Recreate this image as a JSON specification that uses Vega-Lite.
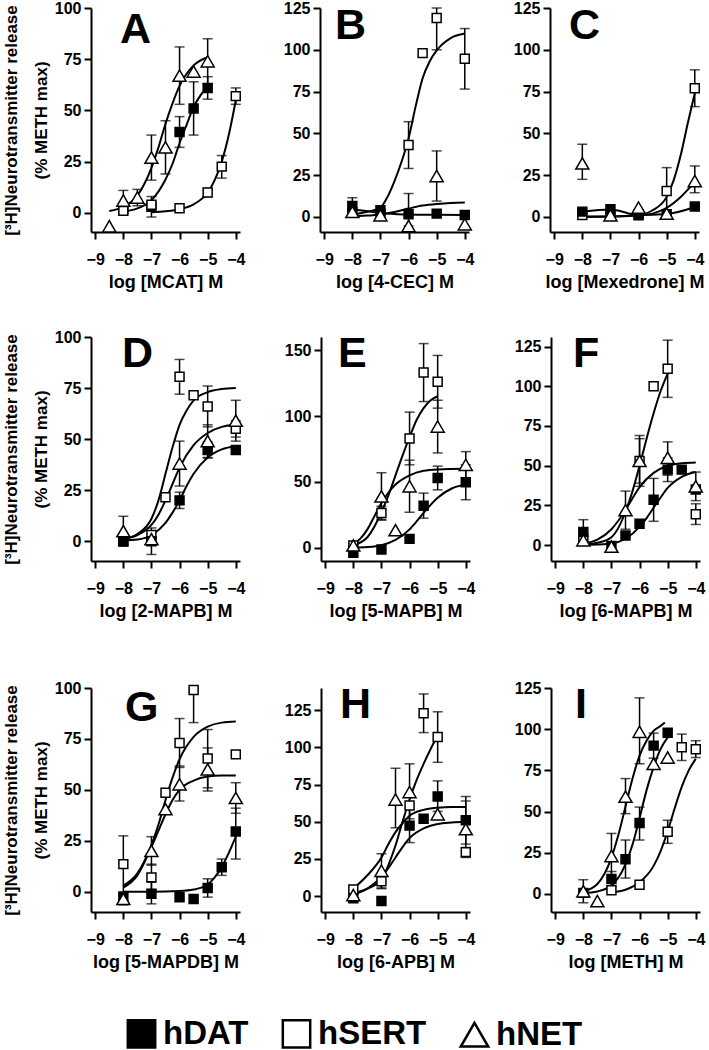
{
"$schema":"https://vega.github.io/schema/vega-lite/v6.json",
"padding":{"left":2,"top":0,"right":0,"bottom":0},
"datasets":{"d":[
{"p":"A","k":"f","s":"hNET","x":-8.5,"y":1},{"p":"A","k":"f","s":"hNET","x":-8,"y":3},{"p":"A","k":"f","s":"hNET","x":-7.5,"y":8.5},{"p":"A","k":"f","s":"hNET","x":-7,"y":22},{"p":"A","k":"f","s":"hNET","x":-6.75,"y":32},{"p":"A","k":"f","s":"hNET","x":-6.5,"y":43.5},{"p":"A","k":"f","s":"hNET","x":-6.25,"y":53.5},{"p":"A","k":"f","s":"hNET","x":-6,"y":62},{"p":"A","k":"f","s":"hNET","x":-5.5,"y":72},{"p":"A","k":"f","s":"hNET","x":-5,"y":76},
{"p":"A","k":"f","s":"hDAT","x":-8,"y":0.7},{"p":"A","k":"f","s":"hDAT","x":-7.5,"y":2.2},{"p":"A","k":"f","s":"hDAT","x":-7,"y":6.2},{"p":"A","k":"f","s":"hDAT","x":-6.5,"y":16.3},{"p":"A","k":"f","s":"hDAT","x":-6.25,"y":24},{"p":"A","k":"f","s":"hDAT","x":-6,"y":34},{"p":"A","k":"f","s":"hDAT","x":-5.75,"y":43},{"p":"A","k":"f","s":"hDAT","x":-5.5,"y":51.7},{"p":"A","k":"f","s":"hDAT","x":-5.25,"y":57.5},{"p":"A","k":"f","s":"hDAT","x":-5,"y":61.8},
{"p":"A","k":"f","s":"hSERT","x":-7,"y":0.3},{"p":"A","k":"f","s":"hSERT","x":-6.5,"y":0.8},{"p":"A","k":"f","s":"hSERT","x":-6,"y":1.8},{"p":"A","k":"f","s":"hSERT","x":-5.5,"y":4.2},{"p":"A","k":"f","s":"hSERT","x":-5,"y":10},{"p":"A","k":"f","s":"hSERT","x":-4.75,"y":16},{"p":"A","k":"f","s":"hSERT","x":-4.5,"y":25},{"p":"A","k":"f","s":"hSERT","x":-4.25,"y":38},{"p":"A","k":"f","s":"hSERT","x":-4,"y":55},
{"p":"A","k":"p","s":"hNET","x":-8.5,"y":-6.5},{"p":"A","k":"p","s":"hNET","x":-8,"y":6,"lo":1,"hi":11},{"p":"A","k":"p","s":"hNET","x":-7.5,"y":7.5,"lo":3.5,"hi":11.5},{"p":"A","k":"p","s":"hNET","x":-7,"y":27,"lo":16,"hi":38},{"p":"A","k":"p","s":"hNET","x":-6.5,"y":32,"lo":19,"hi":45},{"p":"A","k":"p","s":"hNET","x":-6,"y":67,"lo":53,"hi":81},{"p":"A","k":"p","s":"hNET","x":-5.5,"y":69},{"p":"A","k":"p","s":"hNET","x":-5,"y":74,"lo":63,"hi":85},
{"p":"A","k":"p","s":"hDAT","x":-8,"y":2},{"p":"A","k":"p","s":"hDAT","x":-7,"y":3,"lo":-2,"hi":8},{"p":"A","k":"p","s":"hDAT","x":-6,"y":39.5,"lo":32,"hi":47},{"p":"A","k":"p","s":"hDAT","x":-5.5,"y":51,"lo":38,"hi":64},{"p":"A","k":"p","s":"hDAT","x":-5,"y":61,"lo":55.5,"hi":66.5},
{"p":"A","k":"p","s":"hSERT","x":-8,"y":1},{"p":"A","k":"p","s":"hSERT","x":-7,"y":4},{"p":"A","k":"p","s":"hSERT","x":-6,"y":2.3},{"p":"A","k":"p","s":"hSERT","x":-5,"y":10,"lo":8,"hi":12},{"p":"A","k":"p","s":"hSERT","x":-4.5,"y":22.6,"lo":17,"hi":28},{"p":"A","k":"p","s":"hSERT","x":-4,"y":57,"lo":53,"hi":61},

{"p":"B","k":"f","s":"hSERT","x":-8,"y":1.6},{"p":"B","k":"f","s":"hSERT","x":-7.5,"y":3},{"p":"B","k":"f","s":"hSERT","x":-7,"y":5.6},{"p":"B","k":"f","s":"hSERT","x":-6.75,"y":12},{"p":"B","k":"f","s":"hSERT","x":-6.5,"y":21.5},{"p":"B","k":"f","s":"hSERT","x":-6.25,"y":33},{"p":"B","k":"f","s":"hSERT","x":-6,"y":47},{"p":"B","k":"f","s":"hSERT","x":-5.75,"y":66},{"p":"B","k":"f","s":"hSERT","x":-5.5,"y":83},{"p":"B","k":"f","s":"hSERT","x":-5.25,"y":93},{"p":"B","k":"f","s":"hSERT","x":-5,"y":99.6},{"p":"B","k":"f","s":"hSERT","x":-4.5,"y":107},{"p":"B","k":"f","s":"hSERT","x":-4,"y":109.7},
{"p":"B","k":"f","s":"hNET","x":-8,"y":0.5},{"p":"B","k":"f","s":"hNET","x":-7.5,"y":0.8},{"p":"B","k":"f","s":"hNET","x":-7,"y":1.5},{"p":"B","k":"f","s":"hNET","x":-6.5,"y":3},{"p":"B","k":"f","s":"hNET","x":-6,"y":5},{"p":"B","k":"f","s":"hNET","x":-5.5,"y":6.8},{"p":"B","k":"f","s":"hNET","x":-5,"y":7.8},{"p":"B","k":"f","s":"hNET","x":-4.5,"y":8.4},{"p":"B","k":"f","s":"hNET","x":-4,"y":8.6},
{"p":"B","k":"f","s":"hDAT","x":-8,"y":4.5},{"p":"B","k":"f","s":"hDAT","x":-7.5,"y":3.5},{"p":"B","k":"f","s":"hDAT","x":-7,"y":2.5},{"p":"B","k":"f","s":"hDAT","x":-6.5,"y":1.8},{"p":"B","k":"f","s":"hDAT","x":-6,"y":1.5},{"p":"B","k":"f","s":"hDAT","x":-5,"y":1.3},{"p":"B","k":"f","s":"hDAT","x":-4,"y":1.2},
{"p":"B","k":"p","s":"hSERT","x":-8,"y":3},{"p":"B","k":"p","s":"hSERT","x":-7,"y":2},{"p":"B","k":"p","s":"hSERT","x":-6,"y":43,"lo":29,"hi":57},{"p":"B","k":"p","s":"hSERT","x":-5.5,"y":98},{"p":"B","k":"p","s":"hSERT","x":-5,"y":119,"lo":100,"hi":125},{"p":"B","k":"p","s":"hSERT","x":-4,"y":94.6,"lo":76.5,"hi":112.7},
{"p":"B","k":"p","s":"hNET","x":-8,"y":3},{"p":"B","k":"p","s":"hNET","x":-7,"y":1},{"p":"B","k":"p","s":"hNET","x":-6,"y":-5.4,"lo":-5.4,"hi":14},{"p":"B","k":"p","s":"hNET","x":-5,"y":24.5,"lo":9.5,"hi":39.5},{"p":"B","k":"p","s":"hNET","x":-4,"y":-4.4},
{"p":"B","k":"p","s":"hDAT","x":-8,"y":6.6,"lo":1.7,"hi":11.5},{"p":"B","k":"p","s":"hDAT","x":-7,"y":4},{"p":"B","k":"p","s":"hDAT","x":-6,"y":1.6},{"p":"B","k":"p","s":"hDAT","x":-5,"y":2},{"p":"B","k":"p","s":"hDAT","x":-4,"y":1.2},

{"p":"C","k":"f","s":"hSERT","x":-8,"y":0.2},{"p":"C","k":"f","s":"hSERT","x":-7,"y":0.3},{"p":"C","k":"f","s":"hSERT","x":-6,"y":1.2},{"p":"C","k":"f","s":"hSERT","x":-5.5,"y":4},{"p":"C","k":"f","s":"hSERT","x":-5,"y":12},{"p":"C","k":"f","s":"hSERT","x":-4.75,"y":22},{"p":"C","k":"f","s":"hSERT","x":-4.5,"y":37},{"p":"C","k":"f","s":"hSERT","x":-4.25,"y":56},{"p":"C","k":"f","s":"hSERT","x":-4,"y":74},
{"p":"C","k":"f","s":"hNET","x":-8,"y":0},{"p":"C","k":"f","s":"hNET","x":-7,"y":0.2},{"p":"C","k":"f","s":"hNET","x":-6,"y":0.8},{"p":"C","k":"f","s":"hNET","x":-5.5,"y":2},{"p":"C","k":"f","s":"hNET","x":-5,"y":5.5},{"p":"C","k":"f","s":"hNET","x":-4.5,"y":12},{"p":"C","k":"f","s":"hNET","x":-4,"y":21},
{"p":"C","k":"f","s":"hDAT","x":-8,"y":3.2},{"p":"C","k":"f","s":"hDAT","x":-7,"y":4.5},{"p":"C","k":"f","s":"hDAT","x":-6,"y":1.2},{"p":"C","k":"f","s":"hDAT","x":-5,"y":1.8},{"p":"C","k":"f","s":"hDAT","x":-4,"y":6},
{"p":"C","k":"p","s":"hNET","x":-8,"y":32,"lo":22.5,"hi":43.5},{"p":"C","k":"p","s":"hNET","x":-7,"y":1},{"p":"C","k":"p","s":"hNET","x":-6,"y":5.6},{"p":"C","k":"p","s":"hNET","x":-5,"y":2},{"p":"C","k":"p","s":"hNET","x":-4,"y":21.5,"lo":14.5,"hi":30.5},
{"p":"C","k":"p","s":"hSERT","x":-8,"y":1.2},{"p":"C","k":"p","s":"hSERT","x":-7,"y":1},{"p":"C","k":"p","s":"hSERT","x":-6,"y":1},{"p":"C","k":"p","s":"hSERT","x":-5,"y":15.5,"lo":1.5,"hi":29.5},{"p":"C","k":"p","s":"hSERT","x":-4,"y":77,"lo":66,"hi":88},
{"p":"C","k":"p","s":"hDAT","x":-8,"y":3.2},{"p":"C","k":"p","s":"hDAT","x":-7,"y":4.6},{"p":"C","k":"p","s":"hDAT","x":-6,"y":1.6},{"p":"C","k":"p","s":"hDAT","x":-5,"y":1.6},{"p":"C","k":"p","s":"hDAT","x":-4,"y":6.2},

{"p":"D","k":"f","s":"hSERT","x":-8,"y":1},{"p":"D","k":"f","s":"hSERT","x":-7.5,"y":3.5},{"p":"D","k":"f","s":"hSERT","x":-7,"y":11},{"p":"D","k":"f","s":"hSERT","x":-6.75,"y":20},{"p":"D","k":"f","s":"hSERT","x":-6.5,"y":33},{"p":"D","k":"f","s":"hSERT","x":-6.25,"y":46},{"p":"D","k":"f","s":"hSERT","x":-6,"y":57},{"p":"D","k":"f","s":"hSERT","x":-5.75,"y":64},{"p":"D","k":"f","s":"hSERT","x":-5.5,"y":69},{"p":"D","k":"f","s":"hSERT","x":-5,"y":73},{"p":"D","k":"f","s":"hSERT","x":-4.5,"y":74.5},{"p":"D","k":"f","s":"hSERT","x":-4,"y":75},
{"p":"D","k":"f","s":"hNET","x":-8,"y":1},{"p":"D","k":"f","s":"hNET","x":-7.5,"y":3},{"p":"D","k":"f","s":"hNET","x":-7,"y":8},{"p":"D","k":"f","s":"hNET","x":-6.75,"y":13},{"p":"D","k":"f","s":"hNET","x":-6.5,"y":20},{"p":"D","k":"f","s":"hNET","x":-6.25,"y":28},{"p":"D","k":"f","s":"hNET","x":-6,"y":36},{"p":"D","k":"f","s":"hNET","x":-5.5,"y":47},{"p":"D","k":"f","s":"hNET","x":-5,"y":53},{"p":"D","k":"f","s":"hNET","x":-4.5,"y":56},{"p":"D","k":"f","s":"hNET","x":-4,"y":57},
{"p":"D","k":"f","s":"hDAT","x":-8,"y":0.3},{"p":"D","k":"f","s":"hDAT","x":-7.5,"y":0.8},{"p":"D","k":"f","s":"hDAT","x":-7,"y":3},{"p":"D","k":"f","s":"hDAT","x":-6.5,"y":9},{"p":"D","k":"f","s":"hDAT","x":-6.25,"y":14},{"p":"D","k":"f","s":"hDAT","x":-6,"y":20},{"p":"D","k":"f","s":"hDAT","x":-5.75,"y":27},{"p":"D","k":"f","s":"hDAT","x":-5.5,"y":33},{"p":"D","k":"f","s":"hDAT","x":-5,"y":41},{"p":"D","k":"f","s":"hDAT","x":-4.5,"y":45},{"p":"D","k":"f","s":"hDAT","x":-4,"y":46.5},
{"p":"D","k":"p","s":"hNET","x":-8,"y":4.9,"lo":-2.4,"hi":12.2},{"p":"D","k":"p","s":"hNET","x":-7,"y":1},{"p":"D","k":"p","s":"hNET","x":-6,"y":38,"lo":27,"hi":49},{"p":"D","k":"p","s":"hNET","x":-5,"y":49,"lo":41,"hi":57},{"p":"D","k":"p","s":"hNET","x":-4,"y":59,"lo":49,"hi":69},
{"p":"D","k":"p","s":"hSERT","x":-8,"y":0},{"p":"D","k":"p","s":"hSERT","x":-7,"y":3},{"p":"D","k":"p","s":"hSERT","x":-6.5,"y":21.5},{"p":"D","k":"p","s":"hSERT","x":-6,"y":80.5,"lo":72,"hi":89},{"p":"D","k":"p","s":"hSERT","x":-5.5,"y":71.5},{"p":"D","k":"p","s":"hSERT","x":-5,"y":66,"lo":56,"hi":76},{"p":"D","k":"p","s":"hSERT","x":-4,"y":55,"lo":51,"hi":59},
{"p":"D","k":"p","s":"hDAT","x":-8,"y":0},{"p":"D","k":"p","s":"hDAT","x":-7,"y":0,"lo":-6.5,"hi":6.5},{"p":"D","k":"p","s":"hDAT","x":-6,"y":20,"lo":16,"hi":24},{"p":"D","k":"p","s":"hDAT","x":-5,"y":44.7,"lo":40.7,"hi":48.7},{"p":"D","k":"p","s":"hDAT","x":-4,"y":44.7},

{"p":"E","k":"f","s":"hSERT","x":-8,"y":2},{"p":"E","k":"f","s":"hSERT","x":-7.5,"y":8},{"p":"E","k":"f","s":"hSERT","x":-7,"y":27},{"p":"E","k":"f","s":"hSERT","x":-6.75,"y":40},{"p":"E","k":"f","s":"hSERT","x":-6.5,"y":55},{"p":"E","k":"f","s":"hSERT","x":-6.25,"y":70},{"p":"E","k":"f","s":"hSERT","x":-6,"y":84},{"p":"E","k":"f","s":"hSERT","x":-5.75,"y":97},{"p":"E","k":"f","s":"hSERT","x":-5.5,"y":106},{"p":"E","k":"f","s":"hSERT","x":-5.25,"y":112},{"p":"E","k":"f","s":"hSERT","x":-5,"y":115},
{"p":"E","k":"f","s":"hNET","x":-8,"y":3},{"p":"E","k":"f","s":"hNET","x":-7.75,"y":7},{"p":"E","k":"f","s":"hNET","x":-7.5,"y":14},{"p":"E","k":"f","s":"hNET","x":-7.25,"y":24},{"p":"E","k":"f","s":"hNET","x":-7,"y":34},{"p":"E","k":"f","s":"hNET","x":-6.75,"y":42},{"p":"E","k":"f","s":"hNET","x":-6.5,"y":48},{"p":"E","k":"f","s":"hNET","x":-6,"y":55},{"p":"E","k":"f","s":"hNET","x":-5.5,"y":58.5},{"p":"E","k":"f","s":"hNET","x":-5,"y":59.5},{"p":"E","k":"f","s":"hNET","x":-4,"y":60},
{"p":"E","k":"f","s":"hDAT","x":-8,"y":0.2},{"p":"E","k":"f","s":"hDAT","x":-7.5,"y":0.6},{"p":"E","k":"f","s":"hDAT","x":-7,"y":2},{"p":"E","k":"f","s":"hDAT","x":-6.5,"y":6},{"p":"E","k":"f","s":"hDAT","x":-6,"y":14},{"p":"E","k":"f","s":"hDAT","x":-5.75,"y":20},{"p":"E","k":"f","s":"hDAT","x":-5.5,"y":26.5},{"p":"E","k":"f","s":"hDAT","x":-5,"y":38},{"p":"E","k":"f","s":"hDAT","x":-4.5,"y":45},{"p":"E","k":"f","s":"hDAT","x":-4,"y":48},
{"p":"E","k":"p","s":"hSERT","x":-8,"y":1.8},{"p":"E","k":"p","s":"hSERT","x":-7,"y":26.5,"lo":21.5,"hi":31.5},{"p":"E","k":"p","s":"hSERT","x":-6,"y":83,"lo":63,"hi":103},{"p":"E","k":"p","s":"hSERT","x":-5.5,"y":133,"lo":111,"hi":155},{"p":"E","k":"p","s":"hSERT","x":-5,"y":126,"lo":106,"hi":146},
{"p":"E","k":"p","s":"hNET","x":-8,"y":1.8},{"p":"E","k":"p","s":"hNET","x":-7,"y":39,"lo":21,"hi":57},{"p":"E","k":"p","s":"hNET","x":-6.5,"y":13.4},{"p":"E","k":"p","s":"hNET","x":-6,"y":46.7,"lo":27,"hi":66.5},{"p":"E","k":"p","s":"hNET","x":-5,"y":92,"lo":72,"hi":112},{"p":"E","k":"p","s":"hNET","x":-4,"y":63,"lo":53,"hi":73},
{"p":"E","k":"p","s":"hDAT","x":-8,"y":-3.8},{"p":"E","k":"p","s":"hDAT","x":-7,"y":-1.3},{"p":"E","k":"p","s":"hDAT","x":-6,"y":6.8},{"p":"E","k":"p","s":"hDAT","x":-5.5,"y":32,"lo":22.5,"hi":41.5},{"p":"E","k":"p","s":"hDAT","x":-5,"y":53,"lo":44,"hi":62},{"p":"E","k":"p","s":"hDAT","x":-4,"y":49.7,"lo":36.5,"hi":63},

{"p":"F","k":"f","s":"hSERT","x":-8,"y":0.5},{"p":"F","k":"f","s":"hSERT","x":-7.5,"y":1.5},{"p":"F","k":"f","s":"hSERT","x":-7,"y":5},{"p":"F","k":"f","s":"hSERT","x":-6.75,"y":11},{"p":"F","k":"f","s":"hSERT","x":-6.5,"y":21},{"p":"F","k":"f","s":"hSERT","x":-6.25,"y":34},{"p":"F","k":"f","s":"hSERT","x":-6,"y":50},{"p":"F","k":"f","s":"hSERT","x":-5.75,"y":67},{"p":"F","k":"f","s":"hSERT","x":-5.5,"y":83},{"p":"F","k":"f","s":"hSERT","x":-5.25,"y":97},{"p":"F","k":"f","s":"hSERT","x":-5,"y":108},
{"p":"F","k":"f","s":"hNET","x":-8,"y":1},{"p":"F","k":"f","s":"hNET","x":-7.5,"y":3.5},{"p":"F","k":"f","s":"hNET","x":-7,"y":10},{"p":"F","k":"f","s":"hNET","x":-6.75,"y":15.5},{"p":"F","k":"f","s":"hNET","x":-6.5,"y":22},{"p":"F","k":"f","s":"hNET","x":-6.25,"y":29.5},{"p":"F","k":"f","s":"hNET","x":-6,"y":36.5},{"p":"F","k":"f","s":"hNET","x":-5.5,"y":45.5},{"p":"F","k":"f","s":"hNET","x":-5,"y":50},{"p":"F","k":"f","s":"hNET","x":-4.5,"y":51.5},{"p":"F","k":"f","s":"hNET","x":-4,"y":52},
{"p":"F","k":"f","s":"hDAT","x":-8,"y":0.2},{"p":"F","k":"f","s":"hDAT","x":-7.5,"y":0.4},{"p":"F","k":"f","s":"hDAT","x":-7,"y":1},{"p":"F","k":"f","s":"hDAT","x":-6.5,"y":4},{"p":"F","k":"f","s":"hDAT","x":-6,"y":11.5},{"p":"F","k":"f","s":"hDAT","x":-5.75,"y":17},{"p":"F","k":"f","s":"hDAT","x":-5.5,"y":23.5},{"p":"F","k":"f","s":"hDAT","x":-5.25,"y":30},{"p":"F","k":"f","s":"hDAT","x":-5,"y":36},{"p":"F","k":"f","s":"hDAT","x":-4.5,"y":43},{"p":"F","k":"f","s":"hDAT","x":-4,"y":46},
{"p":"F","k":"p","s":"hSERT","x":-8,"y":3.5},{"p":"F","k":"p","s":"hSERT","x":-6,"y":53,"lo":37,"hi":69},{"p":"F","k":"p","s":"hSERT","x":-5.5,"y":100},{"p":"F","k":"p","s":"hSERT","x":-5,"y":111,"lo":93,"hi":129},{"p":"F","k":"p","s":"hSERT","x":-4,"y":19.4,"lo":13,"hi":26},
{"p":"F","k":"p","s":"hNET","x":-8,"y":3},{"p":"F","k":"p","s":"hNET","x":-7,"y":-1},{"p":"F","k":"p","s":"hNET","x":-6.5,"y":22,"lo":10,"hi":34},{"p":"F","k":"p","s":"hNET","x":-6,"y":53,"lo":39,"hi":67},{"p":"F","k":"p","s":"hNET","x":-5,"y":55,"lo":44,"hi":65},{"p":"F","k":"p","s":"hNET","x":-4,"y":37,"lo":28,"hi":46},
{"p":"F","k":"p","s":"hDAT","x":-8,"y":8.3,"lo":0.5,"hi":16},{"p":"F","k":"p","s":"hDAT","x":-7,"y":-0.6},{"p":"F","k":"p","s":"hDAT","x":-6.5,"y":6},{"p":"F","k":"p","s":"hDAT","x":-6,"y":13.5},{"p":"F","k":"p","s":"hDAT","x":-5.5,"y":28.5,"lo":15,"hi":42},{"p":"F","k":"p","s":"hDAT","x":-5,"y":47.5,"lo":40,"hi":55},{"p":"F","k":"p","s":"hDAT","x":-4.5,"y":47.5},{"p":"F","k":"p","s":"hDAT","x":-4,"y":35},

{"p":"G","k":"f","s":"hSERT","x":-8,"y":3},{"p":"G","k":"f","s":"hSERT","x":-7.5,"y":9},{"p":"G","k":"f","s":"hSERT","x":-7,"y":23},{"p":"G","k":"f","s":"hSERT","x":-6.75,"y":33},{"p":"G","k":"f","s":"hSERT","x":-6.5,"y":45},{"p":"G","k":"f","s":"hSERT","x":-6.25,"y":56},{"p":"G","k":"f","s":"hSERT","x":-6,"y":65},{"p":"G","k":"f","s":"hSERT","x":-5.5,"y":76},{"p":"G","k":"f","s":"hSERT","x":-5,"y":81},{"p":"G","k":"f","s":"hSERT","x":-4.5,"y":83},{"p":"G","k":"f","s":"hSERT","x":-4,"y":83.5},
{"p":"G","k":"f","s":"hNET","x":-8,"y":2},{"p":"G","k":"f","s":"hNET","x":-7.5,"y":8},{"p":"G","k":"f","s":"hNET","x":-7,"y":22},{"p":"G","k":"f","s":"hNET","x":-6.75,"y":30},{"p":"G","k":"f","s":"hNET","x":-6.5,"y":38},{"p":"G","k":"f","s":"hNET","x":-6.25,"y":45},{"p":"G","k":"f","s":"hNET","x":-6,"y":50},{"p":"G","k":"f","s":"hNET","x":-5.5,"y":54.5},{"p":"G","k":"f","s":"hNET","x":-5,"y":56.5},{"p":"G","k":"f","s":"hNET","x":-4.5,"y":57},{"p":"G","k":"f","s":"hNET","x":-4,"y":57},
{"p":"G","k":"f","s":"hDAT","x":-8,"y":0},{"p":"G","k":"f","s":"hDAT","x":-7,"y":0},{"p":"G","k":"f","s":"hDAT","x":-6,"y":0.3},{"p":"G","k":"f","s":"hDAT","x":-5.5,"y":1},{"p":"G","k":"f","s":"hDAT","x":-5,"y":3.5},{"p":"G","k":"f","s":"hDAT","x":-4.75,"y":7},{"p":"G","k":"f","s":"hDAT","x":-4.5,"y":12},{"p":"G","k":"f","s":"hDAT","x":-4.25,"y":19},{"p":"G","k":"f","s":"hDAT","x":-4,"y":27},
{"p":"G","k":"p","s":"hSERT","x":-8,"y":13.5,"lo":0,"hi":27.4},{"p":"G","k":"p","s":"hSERT","x":-7,"y":7,"lo":1,"hi":13.5},{"p":"G","k":"p","s":"hSERT","x":-6.5,"y":48.6},{"p":"G","k":"p","s":"hSERT","x":-6,"y":73,"lo":61,"hi":85},{"p":"G","k":"p","s":"hSERT","x":-5.5,"y":99,"lo":83,"hi":99},{"p":"G","k":"p","s":"hSERT","x":-5,"y":65.4,"lo":51,"hi":79.6},{"p":"G","k":"p","s":"hSERT","x":-4,"y":67.4},
{"p":"G","k":"p","s":"hNET","x":-8,"y":-3.6,"lo":-6.5,"hi":-0.7},{"p":"G","k":"p","s":"hNET","x":-7,"y":20,"lo":13,"hi":27},{"p":"G","k":"p","s":"hNET","x":-6.5,"y":40.5},{"p":"G","k":"p","s":"hNET","x":-6,"y":52.7,"lo":44.5,"hi":61.7},{"p":"G","k":"p","s":"hNET","x":-5,"y":60,"lo":49.4,"hi":70.6},{"p":"G","k":"p","s":"hNET","x":-4,"y":46,"lo":38.5,"hi":53.5},
{"p":"G","k":"p","s":"hDAT","x":-8,"y":-2.8},{"p":"G","k":"p","s":"hDAT","x":-7,"y":-1,"lo":-6,"hi":4.6},{"p":"G","k":"p","s":"hDAT","x":-6,"y":-2.8},{"p":"G","k":"p","s":"hDAT","x":-5.5,"y":-3.6},{"p":"G","k":"p","s":"hDAT","x":-5,"y":1.8,"lo":-2.7,"hi":6.3},{"p":"G","k":"p","s":"hDAT","x":-4.5,"y":12,"lo":8,"hi":16},{"p":"G","k":"p","s":"hDAT","x":-4,"y":29.5,"lo":16,"hi":41},

{"p":"H","k":"f","s":"hSERT","x":-8,"y":2},{"p":"H","k":"f","s":"hSERT","x":-7.5,"y":5},{"p":"H","k":"f","s":"hSERT","x":-7,"y":11},{"p":"H","k":"f","s":"hSERT","x":-6.75,"y":21},{"p":"H","k":"f","s":"hSERT","x":-6.5,"y":34},{"p":"H","k":"f","s":"hSERT","x":-6.25,"y":50},{"p":"H","k":"f","s":"hSERT","x":-6,"y":65},{"p":"H","k":"f","s":"hSERT","x":-5.75,"y":78},{"p":"H","k":"f","s":"hSERT","x":-5.5,"y":89},{"p":"H","k":"f","s":"hSERT","x":-5.25,"y":99},{"p":"H","k":"f","s":"hSERT","x":-5,"y":108},
{"p":"H","k":"f","s":"hNET","x":-8,"y":5},{"p":"H","k":"f","s":"hNET","x":-7.5,"y":14},{"p":"H","k":"f","s":"hNET","x":-7,"y":26},{"p":"H","k":"f","s":"hNET","x":-6.75,"y":35},{"p":"H","k":"f","s":"hNET","x":-6.5,"y":43},{"p":"H","k":"f","s":"hNET","x":-6.25,"y":49},{"p":"H","k":"f","s":"hNET","x":-6,"y":54},{"p":"H","k":"f","s":"hNET","x":-5.5,"y":58},{"p":"H","k":"f","s":"hNET","x":-5,"y":59.5},{"p":"H","k":"f","s":"hNET","x":-4.5,"y":60},{"p":"H","k":"f","s":"hNET","x":-4,"y":60},
{"p":"H","k":"f","s":"hDAT","x":-8,"y":1},{"p":"H","k":"f","s":"hDAT","x":-7.5,"y":5},{"p":"H","k":"f","s":"hDAT","x":-7,"y":13},{"p":"H","k":"f","s":"hDAT","x":-6.75,"y":19},{"p":"H","k":"f","s":"hDAT","x":-6.5,"y":26},{"p":"H","k":"f","s":"hDAT","x":-6.25,"y":33},{"p":"H","k":"f","s":"hDAT","x":-6,"y":39},{"p":"H","k":"f","s":"hDAT","x":-5.5,"y":45.5},{"p":"H","k":"f","s":"hDAT","x":-5,"y":48.5},{"p":"H","k":"f","s":"hDAT","x":-4.5,"y":49.5},{"p":"H","k":"f","s":"hDAT","x":-4,"y":50},
{"p":"H","k":"p","s":"hSERT","x":-8,"y":4.5},{"p":"H","k":"p","s":"hSERT","x":-7,"y":10,"lo":5,"hi":15},{"p":"H","k":"p","s":"hSERT","x":-6,"y":61},{"p":"H","k":"p","s":"hSERT","x":-5.5,"y":123,"lo":110,"hi":136},{"p":"H","k":"p","s":"hSERT","x":-5,"y":107,"lo":90,"hi":124},{"p":"H","k":"p","s":"hSERT","x":-4,"y":29.6,"lo":26.5,"hi":32.7},
{"p":"H","k":"p","s":"hNET","x":-8,"y":0.7},{"p":"H","k":"p","s":"hNET","x":-7,"y":17,"lo":5.5,"hi":28.5},{"p":"H","k":"p","s":"hNET","x":-6.5,"y":65,"lo":46,"hi":86},{"p":"H","k":"p","s":"hNET","x":-6,"y":70,"lo":52,"hi":89},{"p":"H","k":"p","s":"hNET","x":-5,"y":55},{"p":"H","k":"p","s":"hNET","x":-4,"y":45,"lo":26,"hi":64},
{"p":"H","k":"p","s":"hDAT","x":-8,"y":-1.5},{"p":"H","k":"p","s":"hDAT","x":-7,"y":-3.3},{"p":"H","k":"p","s":"hDAT","x":-6,"y":47.4,"lo":36,"hi":59},{"p":"H","k":"p","s":"hDAT","x":-5.5,"y":52},{"p":"H","k":"p","s":"hDAT","x":-5,"y":67,"lo":57,"hi":77.5},{"p":"H","k":"p","s":"hDAT","x":-4,"y":51,"lo":35,"hi":67},

{"p":"I","k":"f","s":"hNET","x":-8,"y":1.5},{"p":"I","k":"f","s":"hNET","x":-7.5,"y":6},{"p":"I","k":"f","s":"hNET","x":-7,"y":22},{"p":"I","k":"f","s":"hNET","x":-6.75,"y":36},{"p":"I","k":"f","s":"hNET","x":-6.5,"y":53},{"p":"I","k":"f","s":"hNET","x":-6.25,"y":70},{"p":"I","k":"f","s":"hNET","x":-6,"y":84},{"p":"I","k":"f","s":"hNET","x":-5.75,"y":93},{"p":"I","k":"f","s":"hNET","x":-5.5,"y":99},{"p":"I","k":"f","s":"hNET","x":-5.25,"y":102},{"p":"I","k":"f","s":"hNET","x":-5.1,"y":104},
{"p":"I","k":"f","s":"hDAT","x":-8,"y":0.5},{"p":"I","k":"f","s":"hDAT","x":-7.5,"y":1.5},{"p":"I","k":"f","s":"hDAT","x":-7,"y":5},{"p":"I","k":"f","s":"hDAT","x":-6.5,"y":18},{"p":"I","k":"f","s":"hDAT","x":-6.25,"y":30},{"p":"I","k":"f","s":"hDAT","x":-6,"y":46},{"p":"I","k":"f","s":"hDAT","x":-5.75,"y":63},{"p":"I","k":"f","s":"hDAT","x":-5.5,"y":77},{"p":"I","k":"f","s":"hDAT","x":-5.25,"y":88},{"p":"I","k":"f","s":"hDAT","x":-5,"y":95},
{"p":"I","k":"f","s":"hSERT","x":-7,"y":1},{"p":"I","k":"f","s":"hSERT","x":-6.5,"y":2.5},{"p":"I","k":"f","s":"hSERT","x":-6,"y":7},{"p":"I","k":"f","s":"hSERT","x":-5.5,"y":17},{"p":"I","k":"f","s":"hSERT","x":-5.25,"y":26},{"p":"I","k":"f","s":"hSERT","x":-5,"y":38},{"p":"I","k":"f","s":"hSERT","x":-4.75,"y":52},{"p":"I","k":"f","s":"hSERT","x":-4.5,"y":65},{"p":"I","k":"f","s":"hSERT","x":-4.25,"y":75},{"p":"I","k":"f","s":"hSERT","x":-4,"y":82},
{"p":"I","k":"p","s":"hNET","x":-8,"y":1.6,"lo":-5.4,"hi":8.6},{"p":"I","k":"p","s":"hNET","x":-7.5,"y":-4.4},{"p":"I","k":"p","s":"hNET","x":-7,"y":23,"lo":10,"hi":36.7},{"p":"I","k":"p","s":"hNET","x":-6.5,"y":59,"lo":48.7,"hi":70},{"p":"I","k":"p","s":"hNET","x":-6,"y":98.4,"lo":79,"hi":119},{"p":"I","k":"p","s":"hNET","x":-5.5,"y":79},{"p":"I","k":"p","s":"hNET","x":-5,"y":82.8},
{"p":"I","k":"p","s":"hDAT","x":-8,"y":0.6},{"p":"I","k":"p","s":"hDAT","x":-7,"y":9,"lo":4.4,"hi":13.6},{"p":"I","k":"p","s":"hDAT","x":-6.5,"y":21,"lo":9.6,"hi":32.7},{"p":"I","k":"p","s":"hDAT","x":-6,"y":43,"lo":32.7,"hi":52.7},{"p":"I","k":"p","s":"hDAT","x":-5.5,"y":90,"lo":82.4,"hi":97.6},{"p":"I","k":"p","s":"hDAT","x":-5,"y":97.8},
{"p":"I","k":"p","s":"hSERT","x":-7,"y":2.2},{"p":"I","k":"p","s":"hSERT","x":-6,"y":5.6},{"p":"I","k":"p","s":"hSERT","x":-5,"y":37.7,"lo":30.7,"hi":44.7},{"p":"I","k":"p","s":"hSERT","x":-4.5,"y":89,"lo":81,"hi":97},{"p":"I","k":"p","s":"hSERT","x":-4,"y":87.8,"lo":82.8,"hi":93}
]},
"vconcat":[
{"hconcat":[
{"width":149,"height":224,"data":{"name":"d"},"transform":[{"filter":"datum.p==='A'"}],
"title":{"text":"A","anchor":"start","frame":"group","baseline":"top","fontSize":43,"fontWeight":"bold","font":"Liberation Sans","color":"black","offset":-52,"dx":29},
"encoding":{"x":{"field":"x","type":"quantitative","scale":{"domain":[-9.15,-3.85],"nice":false,"zero":false},"axis":{"title":"log [MCAT] M","values":[-9,-8,-7,-6,-5,-4],"labelOverlap":false}},
"y":{"field":"y","type":"quantitative","scale":{"domain":[-9.3,100],"nice":false,"zero":false},"axis":{"title":["[³H]Neurotransmitter release","(% METH max)"],"values":[0,25,50,75,100],"labelOverlap":false}}},
"layer":[
{"transform":[{"filter":"datum.k==='f'"}],"mark":{"type":"line","interpolate":"monotone","color":"black","strokeWidth":2},"encoding":{"detail":{"field":"s"}}},
{"transform":[{"filter":"datum.k==='p' && isValid(datum.lo)"}],"mark":{"type":"rule","color":"black","strokeWidth":1.5},"encoding":{"y":{"field":"lo","type":"quantitative","axis":{"title":["[³H]Neurotransmitter release","(% METH max)"],"labelOverlap":false}},"y2":{"field":"hi"}}},
{"transform":[{"filter":"datum.k==='p' && isValid(datum.lo)"}],"mark":{"type":"tick","orient":"horizontal","color":"black","size":10,"thickness":1.5},"encoding":{"y":{"field":"lo","type":"quantitative","axis":{"title":["[³H]Neurotransmitter release","(% METH max)"],"labelOverlap":false}}}},
{"transform":[{"filter":"datum.k==='p' && isValid(datum.lo)"}],"mark":{"type":"tick","orient":"horizontal","color":"black","size":10,"thickness":1.5},"encoding":{"y":{"field":"hi","type":"quantitative","axis":{"title":["[³H]Neurotransmitter release","(% METH max)"],"labelOverlap":false}}}},
{"transform":[{"filter":"datum.k==='p' && datum.s!=='hNET'"}],"mark":{"type":"point","filled":true,"opacity":1,"size":80,"strokeWidth":1.5},"encoding":{"shape":{"field":"s","type":"nominal","scale":{"domain":["hDAT","hSERT","hNET"],"range":["square","square","triangle-up"]},"legend":{"title":null}},"fill":{"field":"s","type":"nominal","scale":{"domain":["hDAT","hSERT","hNET"],"range":["black","white","white"]},"legend":{"title":null}},"stroke":{"field":"s","type":"nominal","scale":{"domain":["hDAT","hSERT","hNET"],"range":["black","black","black"]},"legend":{"title":null}}}},
{"transform":[{"filter":"datum.k==='p' && datum.s==='hNET'"}],"mark":{"type":"point","filled":true,"opacity":1,"size":170,"strokeWidth":1.5},"encoding":{"shape":{"field":"s","type":"nominal","scale":{"domain":["hDAT","hSERT","hNET"],"range":["square","square","triangle-up"]},"legend":{"title":null}},"fill":{"field":"s","type":"nominal","scale":{"domain":["hDAT","hSERT","hNET"],"range":["black","white","white"]},"legend":{"title":null}},"stroke":{"field":"s","type":"nominal","scale":{"domain":["hDAT","hSERT","hNET"],"range":["black","black","black"]},"legend":{"title":null}}}}
]},
{"width":149,"height":224,"data":{"name":"d"},"transform":[{"filter":"datum.p==='B'"}],
"title":{"text":"B","anchor":"start","frame":"group","baseline":"top","fontSize":43,"fontWeight":"bold","font":"Liberation Sans","color":"black","offset":-48,"dx":15},
"encoding":{"x":{"field":"x","type":"quantitative","scale":{"domain":[-9.15,-3.85],"nice":false,"zero":false},"axis":{"title":"log [4-CEC] M","values":[-9,-8,-7,-6,-5,-4],"labelOverlap":false}},
"y":{"field":"y","type":"quantitative","scale":{"domain":[-9,125],"nice":false,"zero":false},"axis":{"title":null,"values":[0,25,50,75,100,125],"labelOverlap":false}}},
"layer":[
{"transform":[{"filter":"datum.k==='f'"}],"mark":{"type":"line","interpolate":"monotone","color":"black","strokeWidth":2},"encoding":{"detail":{"field":"s"}}},
{"transform":[{"filter":"datum.k==='p' && isValid(datum.lo)"}],"mark":{"type":"rule","color":"black","strokeWidth":1.5},"encoding":{"y":{"field":"lo","type":"quantitative","axis":{"title":null,"labelOverlap":false}},"y2":{"field":"hi"}}},
{"transform":[{"filter":"datum.k==='p' && isValid(datum.lo)"}],"mark":{"type":"tick","orient":"horizontal","color":"black","size":10,"thickness":1.5},"encoding":{"y":{"field":"lo","type":"quantitative","axis":{"title":null,"labelOverlap":false}}}},
{"transform":[{"filter":"datum.k==='p' && isValid(datum.lo)"}],"mark":{"type":"tick","orient":"horizontal","color":"black","size":10,"thickness":1.5},"encoding":{"y":{"field":"hi","type":"quantitative","axis":{"title":null,"labelOverlap":false}}}},
{"transform":[{"filter":"datum.k==='p' && datum.s!=='hNET'"}],"mark":{"type":"point","filled":true,"opacity":1,"size":80,"strokeWidth":1.5},"encoding":{"shape":{"field":"s","type":"nominal","scale":{"domain":["hDAT","hSERT","hNET"],"range":["square","square","triangle-up"]},"legend":{"title":null}},"fill":{"field":"s","type":"nominal","scale":{"domain":["hDAT","hSERT","hNET"],"range":["black","white","white"]},"legend":{"title":null}},"stroke":{"field":"s","type":"nominal","scale":{"domain":["hDAT","hSERT","hNET"],"range":["black","black","black"]},"legend":{"title":null}}}},
{"transform":[{"filter":"datum.k==='p' && datum.s==='hNET'"}],"mark":{"type":"point","filled":true,"opacity":1,"size":170,"strokeWidth":1.5},"encoding":{"shape":{"field":"s","type":"nominal","scale":{"domain":["hDAT","hSERT","hNET"],"range":["square","square","triangle-up"]},"legend":{"title":null}},"fill":{"field":"s","type":"nominal","scale":{"domain":["hDAT","hSERT","hNET"],"range":["black","white","white"]},"legend":{"title":null}},"stroke":{"field":"s","type":"nominal","scale":{"domain":["hDAT","hSERT","hNET"],"range":["black","black","black"]},"legend":{"title":null}}}}
]},
{"width":149,"height":224,"data":{"name":"d"},"transform":[{"filter":"datum.p==='C'"}],
"title":{"text":"C","anchor":"start","frame":"group","baseline":"top","fontSize":43,"fontWeight":"bold","font":"Liberation Sans","color":"black","offset":-48,"dx":19},
"encoding":{"x":{"field":"x","type":"quantitative","scale":{"domain":[-9.15,-3.85],"nice":false,"zero":false},"axis":{"title":"log [Mexedrone] M","values":[-9,-8,-7,-6,-5,-4],"labelOverlap":false}},
"y":{"field":"y","type":"quantitative","scale":{"domain":[-9,125],"nice":false,"zero":false},"axis":{"title":null,"values":[0,25,50,75,100,125],"labelOverlap":false}}},
"layer":[
{"transform":[{"filter":"datum.k==='f'"}],"mark":{"type":"line","interpolate":"monotone","color":"black","strokeWidth":2},"encoding":{"detail":{"field":"s"}}},
{"transform":[{"filter":"datum.k==='p' && isValid(datum.lo)"}],"mark":{"type":"rule","color":"black","strokeWidth":1.5},"encoding":{"y":{"field":"lo","type":"quantitative","axis":{"title":null,"labelOverlap":false}},"y2":{"field":"hi"}}},
{"transform":[{"filter":"datum.k==='p' && isValid(datum.lo)"}],"mark":{"type":"tick","orient":"horizontal","color":"black","size":10,"thickness":1.5},"encoding":{"y":{"field":"lo","type":"quantitative","axis":{"title":null,"labelOverlap":false}}}},
{"transform":[{"filter":"datum.k==='p' && isValid(datum.lo)"}],"mark":{"type":"tick","orient":"horizontal","color":"black","size":10,"thickness":1.5},"encoding":{"y":{"field":"hi","type":"quantitative","axis":{"title":null,"labelOverlap":false}}}},
{"transform":[{"filter":"datum.k==='p' && datum.s!=='hNET'"}],"mark":{"type":"point","filled":true,"opacity":1,"size":80,"strokeWidth":1.5},"encoding":{"shape":{"field":"s","type":"nominal","scale":{"domain":["hDAT","hSERT","hNET"],"range":["square","square","triangle-up"]},"legend":{"title":null}},"fill":{"field":"s","type":"nominal","scale":{"domain":["hDAT","hSERT","hNET"],"range":["black","white","white"]},"legend":{"title":null}},"stroke":{"field":"s","type":"nominal","scale":{"domain":["hDAT","hSERT","hNET"],"range":["black","black","black"]},"legend":{"title":null}}}},
{"transform":[{"filter":"datum.k==='p' && datum.s==='hNET'"}],"mark":{"type":"point","filled":true,"opacity":1,"size":170,"strokeWidth":1.5},"encoding":{"shape":{"field":"s","type":"nominal","scale":{"domain":["hDAT","hSERT","hNET"],"range":["square","square","triangle-up"]},"legend":{"title":null}},"fill":{"field":"s","type":"nominal","scale":{"domain":["hDAT","hSERT","hNET"],"range":["black","white","white"]},"legend":{"title":null}},"stroke":{"field":"s","type":"nominal","scale":{"domain":["hDAT","hSERT","hNET"],"range":["black","black","black"]},"legend":{"title":null}}}}
]}
],"spacing":38},
{"vconcat":[
{"hconcat":[
{"width":149,"height":224,"data":{"name":"d"},"transform":[{"filter":"datum.p==='D'"}],
"title":{"text":"D","anchor":"start","frame":"group","baseline":"top","fontSize":43,"fontWeight":"bold","font":"Liberation Sans","color":"black","offset":-47,"dx":31},
"encoding":{"x":{"field":"x","type":"quantitative","scale":{"domain":[-9.15,-3.85],"nice":false,"zero":false},"axis":{"title":"log [2-MAPB] M","values":[-9,-8,-7,-6,-5,-4],"labelOverlap":false}},
"y":{"field":"y","type":"quantitative","scale":{"domain":[-9.7,100],"nice":false,"zero":false},"axis":{"title":["[³H]Neurotransmitter release","(% METH max)"],"values":[0,25,50,75,100],"labelOverlap":false}}},
"layer":[
{"transform":[{"filter":"datum.k==='f'"}],"mark":{"type":"line","interpolate":"monotone","color":"black","strokeWidth":2},"encoding":{"detail":{"field":"s"}}},
{"transform":[{"filter":"datum.k==='p' && isValid(datum.lo)"}],"mark":{"type":"rule","color":"black","strokeWidth":1.5},"encoding":{"y":{"field":"lo","type":"quantitative","axis":{"title":["[³H]Neurotransmitter release","(% METH max)"],"labelOverlap":false}},"y2":{"field":"hi"}}},
{"transform":[{"filter":"datum.k==='p' && isValid(datum.lo)"}],"mark":{"type":"tick","orient":"horizontal","color":"black","size":10,"thickness":1.5},"encoding":{"y":{"field":"lo","type":"quantitative","axis":{"title":["[³H]Neurotransmitter release","(% METH max)"],"labelOverlap":false}}}},
{"transform":[{"filter":"datum.k==='p' && isValid(datum.lo)"}],"mark":{"type":"tick","orient":"horizontal","color":"black","size":10,"thickness":1.5},"encoding":{"y":{"field":"hi","type":"quantitative","axis":{"title":["[³H]Neurotransmitter release","(% METH max)"],"labelOverlap":false}}}},
{"transform":[{"filter":"datum.k==='p' && datum.s!=='hNET'"}],"mark":{"type":"point","filled":true,"opacity":1,"size":80,"strokeWidth":1.5},"encoding":{"shape":{"field":"s","type":"nominal","scale":{"domain":["hDAT","hSERT","hNET"],"range":["square","square","triangle-up"]},"legend":{"title":null}},"fill":{"field":"s","type":"nominal","scale":{"domain":["hDAT","hSERT","hNET"],"range":["black","white","white"]},"legend":{"title":null}},"stroke":{"field":"s","type":"nominal","scale":{"domain":["hDAT","hSERT","hNET"],"range":["black","black","black"]},"legend":{"title":null}}}},
{"transform":[{"filter":"datum.k==='p' && datum.s==='hNET'"}],"mark":{"type":"point","filled":true,"opacity":1,"size":170,"strokeWidth":1.5},"encoding":{"shape":{"field":"s","type":"nominal","scale":{"domain":["hDAT","hSERT","hNET"],"range":["square","square","triangle-up"]},"legend":{"title":null}},"fill":{"field":"s","type":"nominal","scale":{"domain":["hDAT","hSERT","hNET"],"range":["black","white","white"]},"legend":{"title":null}},"stroke":{"field":"s","type":"nominal","scale":{"domain":["hDAT","hSERT","hNET"],"range":["black","black","black"]},"legend":{"title":null}}}}
]},
{"width":149,"height":224,"data":{"name":"d"},"transform":[{"filter":"datum.p==='E'"}],
"title":{"text":"E","anchor":"start","frame":"group","baseline":"top","fontSize":43,"fontWeight":"bold","font":"Liberation Sans","color":"black","offset":-39,"dx":17},
"encoding":{"x":{"field":"x","type":"quantitative","scale":{"domain":[-9.15,-3.85],"nice":false,"zero":false},"axis":{"title":"log [5-MAPB] M","values":[-9,-8,-7,-6,-5,-4],"labelOverlap":false}},
"y":{"field":"y","type":"quantitative","scale":{"domain":[-10,160],"nice":false,"zero":false},"axis":{"title":null,"values":[0,25,50,75,100,125,150],"labelOverlap":false}}},
"layer":[
{"transform":[{"filter":"datum.k==='f'"}],"mark":{"type":"line","interpolate":"monotone","color":"black","strokeWidth":2},"encoding":{"detail":{"field":"s"}}},
{"transform":[{"filter":"datum.k==='p' && isValid(datum.lo)"}],"mark":{"type":"rule","color":"black","strokeWidth":1.5},"encoding":{"y":{"field":"lo","type":"quantitative","axis":{"title":null,"labelOverlap":false}},"y2":{"field":"hi"}}},
{"transform":[{"filter":"datum.k==='p' && isValid(datum.lo)"}],"mark":{"type":"tick","orient":"horizontal","color":"black","size":10,"thickness":1.5},"encoding":{"y":{"field":"lo","type":"quantitative","axis":{"title":null,"labelOverlap":false}}}},
{"transform":[{"filter":"datum.k==='p' && isValid(datum.lo)"}],"mark":{"type":"tick","orient":"horizontal","color":"black","size":10,"thickness":1.5},"encoding":{"y":{"field":"hi","type":"quantitative","axis":{"title":null,"labelOverlap":false}}}},
{"transform":[{"filter":"datum.k==='p' && datum.s!=='hNET'"}],"mark":{"type":"point","filled":true,"opacity":1,"size":80,"strokeWidth":1.5},"encoding":{"shape":{"field":"s","type":"nominal","scale":{"domain":["hDAT","hSERT","hNET"],"range":["square","square","triangle-up"]},"legend":{"title":null}},"fill":{"field":"s","type":"nominal","scale":{"domain":["hDAT","hSERT","hNET"],"range":["black","white","white"]},"legend":{"title":null}},"stroke":{"field":"s","type":"nominal","scale":{"domain":["hDAT","hSERT","hNET"],"range":["black","black","black"]},"legend":{"title":null}}}},
{"transform":[{"filter":"datum.k==='p' && datum.s==='hNET'"}],"mark":{"type":"point","filled":true,"opacity":1,"size":170,"strokeWidth":1.5},"encoding":{"shape":{"field":"s","type":"nominal","scale":{"domain":["hDAT","hSERT","hNET"],"range":["square","square","triangle-up"]},"legend":{"title":null}},"fill":{"field":"s","type":"nominal","scale":{"domain":["hDAT","hSERT","hNET"],"range":["black","white","white"]},"legend":{"title":null}},"stroke":{"field":"s","type":"nominal","scale":{"domain":["hDAT","hSERT","hNET"],"range":["black","black","black"]},"legend":{"title":null}}}}
]},
{"width":149,"height":224,"data":{"name":"d"},"transform":[{"filter":"datum.p==='F'"}],
"title":{"text":"F","anchor":"start","frame":"group","baseline":"top","fontSize":43,"fontWeight":"bold","font":"Liberation Sans","color":"black","offset":-39,"dx":22},
"encoding":{"x":{"field":"x","type":"quantitative","scale":{"domain":[-9.15,-3.85],"nice":false,"zero":false},"axis":{"title":"log [6-MAPB] M","values":[-9,-8,-7,-6,-5,-4],"labelOverlap":false}},
"y":{"field":"y","type":"quantitative","scale":{"domain":[-10,131],"nice":false,"zero":false},"axis":{"title":null,"values":[0,25,50,75,100,125],"labelOverlap":false}}},
"layer":[
{"transform":[{"filter":"datum.k==='f'"}],"mark":{"type":"line","interpolate":"monotone","color":"black","strokeWidth":2},"encoding":{"detail":{"field":"s"}}},
{"transform":[{"filter":"datum.k==='p' && isValid(datum.lo)"}],"mark":{"type":"rule","color":"black","strokeWidth":1.5},"encoding":{"y":{"field":"lo","type":"quantitative","axis":{"title":null,"labelOverlap":false}},"y2":{"field":"hi"}}},
{"transform":[{"filter":"datum.k==='p' && isValid(datum.lo)"}],"mark":{"type":"tick","orient":"horizontal","color":"black","size":10,"thickness":1.5},"encoding":{"y":{"field":"lo","type":"quantitative","axis":{"title":null,"labelOverlap":false}}}},
{"transform":[{"filter":"datum.k==='p' && isValid(datum.lo)"}],"mark":{"type":"tick","orient":"horizontal","color":"black","size":10,"thickness":1.5},"encoding":{"y":{"field":"hi","type":"quantitative","axis":{"title":null,"labelOverlap":false}}}},
{"transform":[{"filter":"datum.k==='p' && datum.s!=='hNET'"}],"mark":{"type":"point","filled":true,"opacity":1,"size":80,"strokeWidth":1.5},"encoding":{"shape":{"field":"s","type":"nominal","scale":{"domain":["hDAT","hSERT","hNET"],"range":["square","square","triangle-up"]},"legend":{"title":null}},"fill":{"field":"s","type":"nominal","scale":{"domain":["hDAT","hSERT","hNET"],"range":["black","white","white"]},"legend":{"title":null}},"stroke":{"field":"s","type":"nominal","scale":{"domain":["hDAT","hSERT","hNET"],"range":["black","black","black"]},"legend":{"title":null}}}},
{"transform":[{"filter":"datum.k==='p' && datum.s==='hNET'"}],"mark":{"type":"point","filled":true,"opacity":1,"size":170,"strokeWidth":1.5},"encoding":{"shape":{"field":"s","type":"nominal","scale":{"domain":["hDAT","hSERT","hNET"],"range":["square","square","triangle-up"]},"legend":{"title":null}},"fill":{"field":"s","type":"nominal","scale":{"domain":["hDAT","hSERT","hNET"],"range":["black","white","white"]},"legend":{"title":null}},"stroke":{"field":"s","type":"nominal","scale":{"domain":["hDAT","hSERT","hNET"],"range":["black","black","black"]},"legend":{"title":null}}}}
]}
],"spacing":38},
{"hconcat":[
{"width":149,"height":224,"data":{"name":"d"},"transform":[{"filter":"datum.p==='G'"}],
"title":{"text":"G","anchor":"start","frame":"group","baseline":"top","fontSize":43,"fontWeight":"bold","font":"Liberation Sans","color":"black","offset":-50,"dx":34},
"encoding":{"x":{"field":"x","type":"quantitative","scale":{"domain":[-9.15,-3.85],"nice":false,"zero":false},"axis":{"title":"log [5-MAPDB] M","values":[-9,-8,-7,-6,-5,-4],"labelOverlap":false}},
"y":{"field":"y","type":"quantitative","scale":{"domain":[-10,100],"nice":false,"zero":false},"axis":{"title":["[³H]Neurotransmitter release","(% METH max)"],"values":[0,25,50,75,100],"labelOverlap":false}}},
"layer":[
{"transform":[{"filter":"datum.k==='f'"}],"mark":{"type":"line","interpolate":"monotone","color":"black","strokeWidth":2},"encoding":{"detail":{"field":"s"}}},
{"transform":[{"filter":"datum.k==='p' && isValid(datum.lo)"}],"mark":{"type":"rule","color":"black","strokeWidth":1.5},"encoding":{"y":{"field":"lo","type":"quantitative","axis":{"title":["[³H]Neurotransmitter release","(% METH max)"],"labelOverlap":false}},"y2":{"field":"hi"}}},
{"transform":[{"filter":"datum.k==='p' && isValid(datum.lo)"}],"mark":{"type":"tick","orient":"horizontal","color":"black","size":10,"thickness":1.5},"encoding":{"y":{"field":"lo","type":"quantitative","axis":{"title":["[³H]Neurotransmitter release","(% METH max)"],"labelOverlap":false}}}},
{"transform":[{"filter":"datum.k==='p' && isValid(datum.lo)"}],"mark":{"type":"tick","orient":"horizontal","color":"black","size":10,"thickness":1.5},"encoding":{"y":{"field":"hi","type":"quantitative","axis":{"title":["[³H]Neurotransmitter release","(% METH max)"],"labelOverlap":false}}}},
{"transform":[{"filter":"datum.k==='p' && datum.s!=='hNET'"}],"mark":{"type":"point","filled":true,"opacity":1,"size":80,"strokeWidth":1.5},"encoding":{"shape":{"field":"s","type":"nominal","scale":{"domain":["hDAT","hSERT","hNET"],"range":["square","square","triangle-up"]},"legend":{"title":null}},"fill":{"field":"s","type":"nominal","scale":{"domain":["hDAT","hSERT","hNET"],"range":["black","white","white"]},"legend":{"title":null}},"stroke":{"field":"s","type":"nominal","scale":{"domain":["hDAT","hSERT","hNET"],"range":["black","black","black"]},"legend":{"title":null}}}},
{"transform":[{"filter":"datum.k==='p' && datum.s==='hNET'"}],"mark":{"type":"point","filled":true,"opacity":1,"size":170,"strokeWidth":1.5},"encoding":{"shape":{"field":"s","type":"nominal","scale":{"domain":["hDAT","hSERT","hNET"],"range":["square","square","triangle-up"]},"legend":{"title":null}},"fill":{"field":"s","type":"nominal","scale":{"domain":["hDAT","hSERT","hNET"],"range":["black","white","white"]},"legend":{"title":null}},"stroke":{"field":"s","type":"nominal","scale":{"domain":["hDAT","hSERT","hNET"],"range":["black","black","black"]},"legend":{"title":null}}}}
]},
{"width":149,"height":224,"data":{"name":"d"},"transform":[{"filter":"datum.p==='H'"}],
"title":{"text":"H","anchor":"start","frame":"group","baseline":"top","fontSize":43,"fontWeight":"bold","font":"Liberation Sans","color":"black","offset":-39,"dx":19},
"encoding":{"x":{"field":"x","type":"quantitative","scale":{"domain":[-9.15,-3.85],"nice":false,"zero":false},"axis":{"title":"log [6-APB] M","values":[-9,-8,-7,-6,-5,-4],"labelOverlap":false}},
"y":{"field":"y","type":"quantitative","scale":{"domain":[-10.7,140],"nice":false,"zero":false},"axis":{"title":null,"values":[0,25,50,75,100,125],"labelOverlap":false}}},
"layer":[
{"transform":[{"filter":"datum.k==='f'"}],"mark":{"type":"line","interpolate":"monotone","color":"black","strokeWidth":2},"encoding":{"detail":{"field":"s"}}},
{"transform":[{"filter":"datum.k==='p' && isValid(datum.lo)"}],"mark":{"type":"rule","color":"black","strokeWidth":1.5},"encoding":{"y":{"field":"lo","type":"quantitative","axis":{"title":null,"labelOverlap":false}},"y2":{"field":"hi"}}},
{"transform":[{"filter":"datum.k==='p' && isValid(datum.lo)"}],"mark":{"type":"tick","orient":"horizontal","color":"black","size":10,"thickness":1.5},"encoding":{"y":{"field":"lo","type":"quantitative","axis":{"title":null,"labelOverlap":false}}}},
{"transform":[{"filter":"datum.k==='p' && isValid(datum.lo)"}],"mark":{"type":"tick","orient":"horizontal","color":"black","size":10,"thickness":1.5},"encoding":{"y":{"field":"hi","type":"quantitative","axis":{"title":null,"labelOverlap":false}}}},
{"transform":[{"filter":"datum.k==='p' && datum.s!=='hNET'"}],"mark":{"type":"point","filled":true,"opacity":1,"size":80,"strokeWidth":1.5},"encoding":{"shape":{"field":"s","type":"nominal","scale":{"domain":["hDAT","hSERT","hNET"],"range":["square","square","triangle-up"]},"legend":{"title":null}},"fill":{"field":"s","type":"nominal","scale":{"domain":["hDAT","hSERT","hNET"],"range":["black","white","white"]},"legend":{"title":null}},"stroke":{"field":"s","type":"nominal","scale":{"domain":["hDAT","hSERT","hNET"],"range":["black","black","black"]},"legend":{"title":null}}}},
{"transform":[{"filter":"datum.k==='p' && datum.s==='hNET'"}],"mark":{"type":"point","filled":true,"opacity":1,"size":170,"strokeWidth":1.5},"encoding":{"shape":{"field":"s","type":"nominal","scale":{"domain":["hDAT","hSERT","hNET"],"range":["square","square","triangle-up"]},"legend":{"title":null}},"fill":{"field":"s","type":"nominal","scale":{"domain":["hDAT","hSERT","hNET"],"range":["black","white","white"]},"legend":{"title":null}},"stroke":{"field":"s","type":"nominal","scale":{"domain":["hDAT","hSERT","hNET"],"range":["black","black","black"]},"legend":{"title":null}}}}
]},
{"width":149,"height":224,"data":{"name":"d"},"transform":[{"filter":"datum.p==='I'"}],
"title":{"text":"I","anchor":"start","frame":"group","baseline":"top","fontSize":43,"fontWeight":"bold","font":"Liberation Sans","color":"black","offset":-47,"dx":24},
"encoding":{"x":{"field":"x","type":"quantitative","scale":{"domain":[-9.15,-3.85],"nice":false,"zero":false},"axis":{"title":"log [METH] M","values":[-9,-8,-7,-6,-5,-4],"labelOverlap":false}},
"y":{"field":"y","type":"quantitative","scale":{"domain":[-11,125],"nice":false,"zero":false},"axis":{"title":null,"values":[0,25,50,75,100,125],"labelOverlap":false}}},
"layer":[
{"transform":[{"filter":"datum.k==='f'"}],"mark":{"type":"line","interpolate":"monotone","color":"black","strokeWidth":2},"encoding":{"detail":{"field":"s"}}},
{"transform":[{"filter":"datum.k==='p' && isValid(datum.lo)"}],"mark":{"type":"rule","color":"black","strokeWidth":1.5},"encoding":{"y":{"field":"lo","type":"quantitative","axis":{"title":null,"labelOverlap":false}},"y2":{"field":"hi"}}},
{"transform":[{"filter":"datum.k==='p' && isValid(datum.lo)"}],"mark":{"type":"tick","orient":"horizontal","color":"black","size":10,"thickness":1.5},"encoding":{"y":{"field":"lo","type":"quantitative","axis":{"title":null,"labelOverlap":false}}}},
{"transform":[{"filter":"datum.k==='p' && isValid(datum.lo)"}],"mark":{"type":"tick","orient":"horizontal","color":"black","size":10,"thickness":1.5},"encoding":{"y":{"field":"hi","type":"quantitative","axis":{"title":null,"labelOverlap":false}}}},
{"transform":[{"filter":"datum.k==='p' && datum.s!=='hNET'"}],"mark":{"type":"point","filled":true,"opacity":1,"size":80,"strokeWidth":1.5},"encoding":{"shape":{"field":"s","type":"nominal","scale":{"domain":["hDAT","hSERT","hNET"],"range":["square","square","triangle-up"]},"legend":{"title":null}},"fill":{"field":"s","type":"nominal","scale":{"domain":["hDAT","hSERT","hNET"],"range":["black","white","white"]},"legend":{"title":null}},"stroke":{"field":"s","type":"nominal","scale":{"domain":["hDAT","hSERT","hNET"],"range":["black","black","black"]},"legend":{"title":null}}}},
{"transform":[{"filter":"datum.k==='p' && datum.s==='hNET'"}],"mark":{"type":"point","filled":true,"opacity":1,"size":170,"strokeWidth":1.5},"encoding":{"shape":{"field":"s","type":"nominal","scale":{"domain":["hDAT","hSERT","hNET"],"range":["square","square","triangle-up"]},"legend":{"title":null}},"fill":{"field":"s","type":"nominal","scale":{"domain":["hDAT","hSERT","hNET"],"range":["black","white","white"]},"legend":{"title":null}},"stroke":{"field":"s","type":"nominal","scale":{"domain":["hDAT","hSERT","hNET"],"range":["black","black","black"]},"legend":{"title":null}}}}
]}
],"spacing":38}
],"spacing":60}
],
"spacing":38,
"config":{
"font":"Liberation Sans",
"view":{"stroke":null},
"axis":{"grid":false,"domainColor":"black","domainWidth":2,"tickColor":"black","tickWidth":2,"tickSize":7,"labelFont":"Liberation Sans","labelFontSize":16,"labelFontWeight":"bold","labelColor":"black","titleFont":"Liberation Sans","titleFontSize":18,"titleFontWeight":"bold","titleColor":"black","labelFlush":false,"labelOverlap":false,"labelBound":false},
"axisX":{"labelPadding":12,"titlePadding":6},
"axisY":{"labelPadding":3,"titlePadding":4,"titleLineHeight":30,"titleFontSize":17},
"legend":{"orient":"bottom","direction":"horizontal","layout":{"bottom":{"anchor":"middle"}},"labelFont":"Liberation Sans","labelFontSize":33,"labelFontWeight":"bold","labelColor":"black","symbolSize":750,"symbolStrokeColor":"black","symbolStrokeWidth":2.5,"columnPadding":28,"labelOffset":5,"offset":46}
}
}
